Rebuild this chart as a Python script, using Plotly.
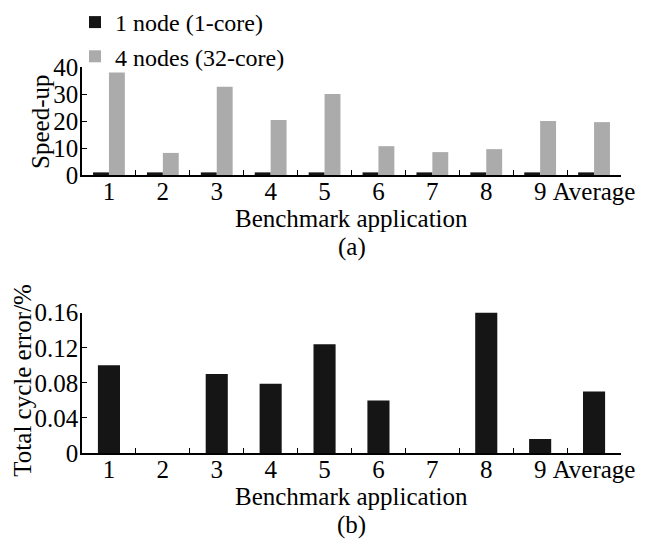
import plotly.graph_objects as go

categories = ["1", "2", "3", "4", "5", "6", "7", "8", "9", "Average"]
speedup_1node = [1, 1, 1, 1, 1, 1, 1, 1, 1, 1]
speedup_4nodes = [38, 8.2, 32.7, 20.4, 30, 10.7, 8.5, 9.6, 20, 19.6]
cycle_error = [0.100, 0, 0.090, 0.079, 0.124, 0.060, 0, 0.163, 0.016, 0.070]

speed_ticks = [0, 10, 20, 30, 40]
speed_ticktext = ["0", "10", "20", "30", "40"]
err_ticks = [0, 0.04, 0.08, 0.12, 0.16]
err_ticktext = ["0", "0.04", "0.08", "0.12", "0.16"]

FONT = "Liberation Serif, Times New Roman, DejaVu Serif, serif"
FS = 25
BLACK = "#151515"
GRAY = "#ababab"

fig = go.Figure()
fig.add_trace(go.Bar(x=categories, y=speedup_1node, name="1 node (1-core)",
                     marker=dict(color=BLACK, line=dict(width=0)),
                     xaxis="x", yaxis="y"))
fig.add_trace(go.Bar(x=categories, y=speedup_4nodes, name="4 nodes (32-core)",
                     marker=dict(color=GRAY, line=dict(width=0)),
                     xaxis="x", yaxis="y"))
fig.add_trace(go.Bar(x=categories, y=cycle_error, name="error",
                     marker=dict(color=BLACK, line=dict(width=0)),
                     width=0.41, showlegend=False,
                     xaxis="x2", yaxis="y2"))

axis_common = dict(showline=True, linecolor="black", linewidth=1.5,
                   showgrid=False, zeroline=False, ticks="inside",
                   ticklen=5, tickwidth=1.3, tickcolor="black",
                   automargin=False,
                   tickfont=dict(family=FONT, size=FS, color="black"))

# page body has an 8px margin: figure is shrunk/shifted to compensate
fig.update_layout(
    width=641, height=541,
    margin=dict(l=74, r=28, t=59, b=96, autoexpand=False),
    paper_bgcolor="white", plot_bgcolor="white",
    barmode="group", bargap=0.41, bargroupgap=0,
    font=dict(family=FONT, size=FS, color="black"),
    xaxis=dict(domain=[0, 1], anchor="y", type="category", tickangle=0,
               tickson="boundaries", range=[-0.5, 9.5],
               ticklabelstandoff=-7, **axis_common),
    yaxis=dict(domain=[0.72, 1.0], anchor="x", range=[0, 40],
               tickvals=speed_ticks, ticktext=speed_ticktext,
               ticklabelstandoff=-3, **axis_common),
    xaxis2=dict(domain=[0, 1], anchor="y2", type="category", tickangle=0,
                tickson="boundaries", range=[-0.5, 9.5],
                ticklabelstandoff=-7, **axis_common),
    yaxis2=dict(domain=[0, 0.3635], anchor="x2", range=[0, 0.16],
                tickvals=err_ticks, ticktext=err_ticktext,
                ticklabelstandoff=-3, **axis_common),
    legend=dict(x=-0.013, y=1.1736, xanchor="left", yanchor="top",
                bgcolor="rgba(0,0,0,0)", borderwidth=0,
                font=dict(family=FONT, size=24, color="black"),
                tracegroupgap=0),
    showlegend=True,
)

ann_font = dict(family=FONT, size=FS, color="black")
annotations = [
    dict(text="Benchmark application", x=0.5, y=0.6088),
    dict(text="(a)", x=0.5, y=0.5337),
    dict(text="Benchmark application", x=0.5, y=-0.1114),
    dict(text="(b)", x=0.5, y=-0.1865),
    dict(text="Speed-up", x=-0.078, y=0.8575, textangle=-90),
    dict(text="Total cycle error/%", x=-0.112, y=0.189, textangle=-90),
]
for a in annotations:
    a.update(xref="paper", yref="paper", showarrow=False, font=ann_font,
             xanchor="center", yanchor="middle")
fig.update_layout(annotations=annotations)

fig.write_html("out.html")
